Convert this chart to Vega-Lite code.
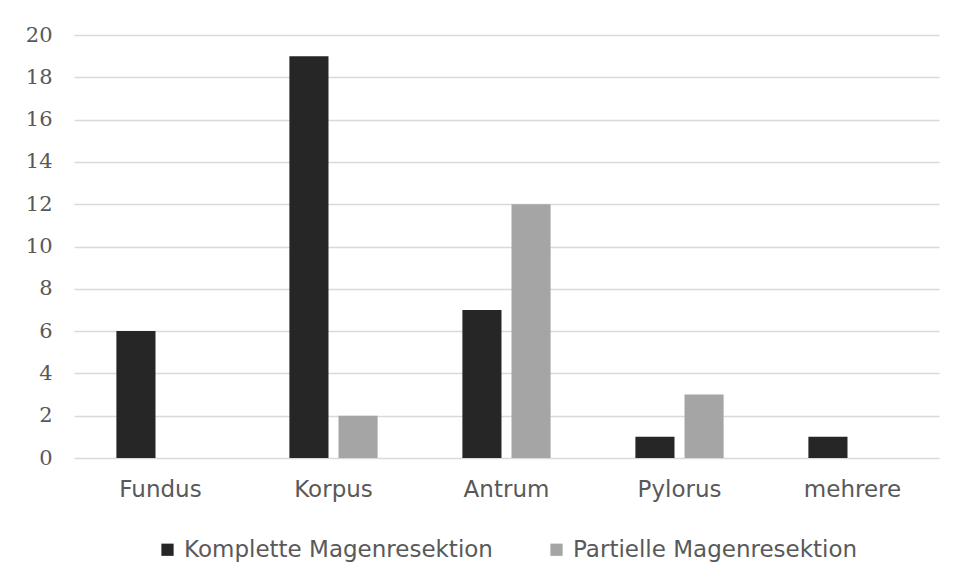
{
  "$schema": "https://vega.github.io/schema/vega-lite/v6.json",
  "width": 865,
  "height": 423,
  "autosize": "none",
  "padding": {"left": 74, "top": 35, "right": 18, "bottom": 119},
  "background": "#ffffff",
  "data": {
    "values": [
      {"Lage": "Fundus", "Gruppe": "Komplette Magenresektion", "Anzahl": 6},
      {"Lage": "Fundus", "Gruppe": "Partielle Magenresektion", "Anzahl": 0},
      {"Lage": "Korpus", "Gruppe": "Komplette Magenresektion", "Anzahl": 19},
      {"Lage": "Korpus", "Gruppe": "Partielle Magenresektion", "Anzahl": 2},
      {"Lage": "Antrum", "Gruppe": "Komplette Magenresektion", "Anzahl": 7},
      {"Lage": "Antrum", "Gruppe": "Partielle Magenresektion", "Anzahl": 12},
      {"Lage": "Pylorus", "Gruppe": "Komplette Magenresektion", "Anzahl": 1},
      {"Lage": "Pylorus", "Gruppe": "Partielle Magenresektion", "Anzahl": 3},
      {"Lage": "mehrere", "Gruppe": "Komplette Magenresektion", "Anzahl": 1},
      {"Lage": "mehrere", "Gruppe": "Partielle Magenresektion", "Anzahl": 0}
    ]
  },
  "mark": {"type": "bar"},
  "encoding": {
    "x": {
      "field": "Lage",
      "type": "nominal",
      "sort": ["Fundus", "Korpus", "Antrum", "Pylorus", "mehrere"],
      "scale": {"paddingInner": 0.49, "paddingOuter": 0.245},
      "axis": {
        "title": null,
        "labelAngle": 0,
        "domain": false,
        "ticks": false,
        "labelPadding": 20,
        "labelFont": "DejaVu Sans",
        "labelFontSize": 23,
        "labelColor": "#595959"
      }
    },
    "xOffset": {
      "field": "Gruppe",
      "type": "nominal",
      "scale": {"paddingInner": 0.204, "paddingOuter": 0}
    },
    "y": {
      "field": "Anzahl",
      "type": "quantitative",
      "scale": {"domain": [0, 20], "nice": false},
      "axis": {
        "title": null,
        "values": [0, 2, 4, 6, 8, 10, 12, 14, 16, 18, 20],
        "domain": false,
        "ticks": false,
        "labelPadding": 22,
        "labelFont": "DejaVu Serif",
        "labelFontSize": 21,
        "labelColor": "#595959",
        "gridColor": "#d9d9d9",
        "gridWidth": 1.5
      }
    },
    "color": {
      "field": "Gruppe",
      "type": "nominal",
      "scale": {
        "domain": ["Komplette Magenresektion", "Partielle Magenresektion"],
        "range": ["#262626", "#a5a5a5"]
      },
      "legend": {
        "title": null,
        "orient": "bottom",
        "direction": "horizontal",
        "symbolType": "square",
        "symbolSize": 150,
        "symbolStrokeWidth": 0,
        "symbolOpacity": 1,
        "labelFont": "DejaVu Sans",
        "labelFontSize": 23,
        "labelColor": "#595959",
        "labelOffset": 5,
        "columnPadding": 52,
        "offset": 37,
        "labelLimit": 400
      }
    }
  },
  "config": {
    "view": {"stroke": null},
    "legend": {"layout": {"bottom": {"anchor": "middle"}}}
  }
}
